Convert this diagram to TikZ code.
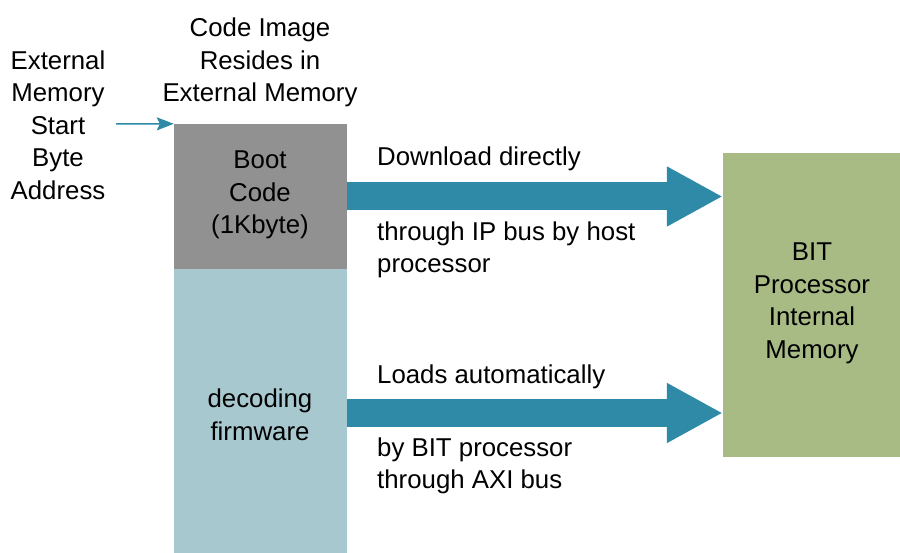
\documentclass[tikz,border=0pt]{standalone}
\usepackage{fontspec}
\setmainfont{Liberation Sans}
\usetikzlibrary{arrows.meta,calc}
\definecolor{bootgray}{HTML}{919191}
\definecolor{fwblue}{HTML}{A8C8D0}
\definecolor{bitgreen}{HTML}{A9BB84}
\definecolor{teal}{HTML}{2E8AA6}
\begin{document}
\begin{tikzpicture}[x=1pt,y=-1pt,
  txt/.style={inner sep=0pt,font=\fontsize{25.8}{32.5}\selectfont},
  block/.style={draw=none,inner sep=0pt},
  bigarrow/.style={draw=teal,line width=28pt,-{Triangle[length=56pt,width=56pt]}},
  smallarrow/.style={draw=teal,line width=1.5pt,-{Stealth[length=17pt,width=13pt,inset=3pt]}}]
\useasboundingbox[fill=white] (0,0) rectangle (900,553);
% blocks
\node[block,fill=bootgray,minimum width=173pt,minimum height=145pt] (boot) at (260.5,196.5) {};
\node[block,fill=fwblue,minimum width=173pt,minimum height=284pt] (fw) at (260.5,411) {};
\node[block,fill=bitgreen,minimum width=177pt,minimum height=304pt] (bit) at (811.5,305) {};
% texts in blocks
\node[txt,align=center] (boottxt) at (260,195) {Boot\\Code\\(1Kbyte)};
\node[txt,align=center] (fwtxt) at (260,415) {decoding\\firmware};
\node[txt,align=center] (bittxt) at (812,303.5) {BIT\\Processor\\Internal\\Memory};
% titles
\node[txt,align=center] (extaddr) at (58,125) {External\\Memory\\Start\\Byte\\Address};
\node[txt,align=center] (codeimg) at (260,62.5) {Code Image\\Resides in\\External Memory};
% arrows
\coordinate (topstart) at (boot.east);
\coordinate (botstart) at ($(fw.east)+(0,2)$);
\draw[bigarrow] (topstart) -- (topstart -| bit.west);
\draw[bigarrow] (botstart) -- (botstart -| bit.west);
\coordinate (addrtail) at (116,124);
\draw[smallarrow] (addrtail) -- (boot.north west);
% arrow labels
\node[txt,anchor=west] (dl1) at (377,159) {Download directly};
\node[txt,anchor=west,align=left] (dl2) at (377,250) {through IP bus by host\\processor};
\node[txt,anchor=west] (ld1) at (377,377) {Loads automatically};
\node[txt,anchor=west,align=left] (ld2) at (377,466) {by BIT processor\\through AXI bus};
\end{tikzpicture}
\end{document}
